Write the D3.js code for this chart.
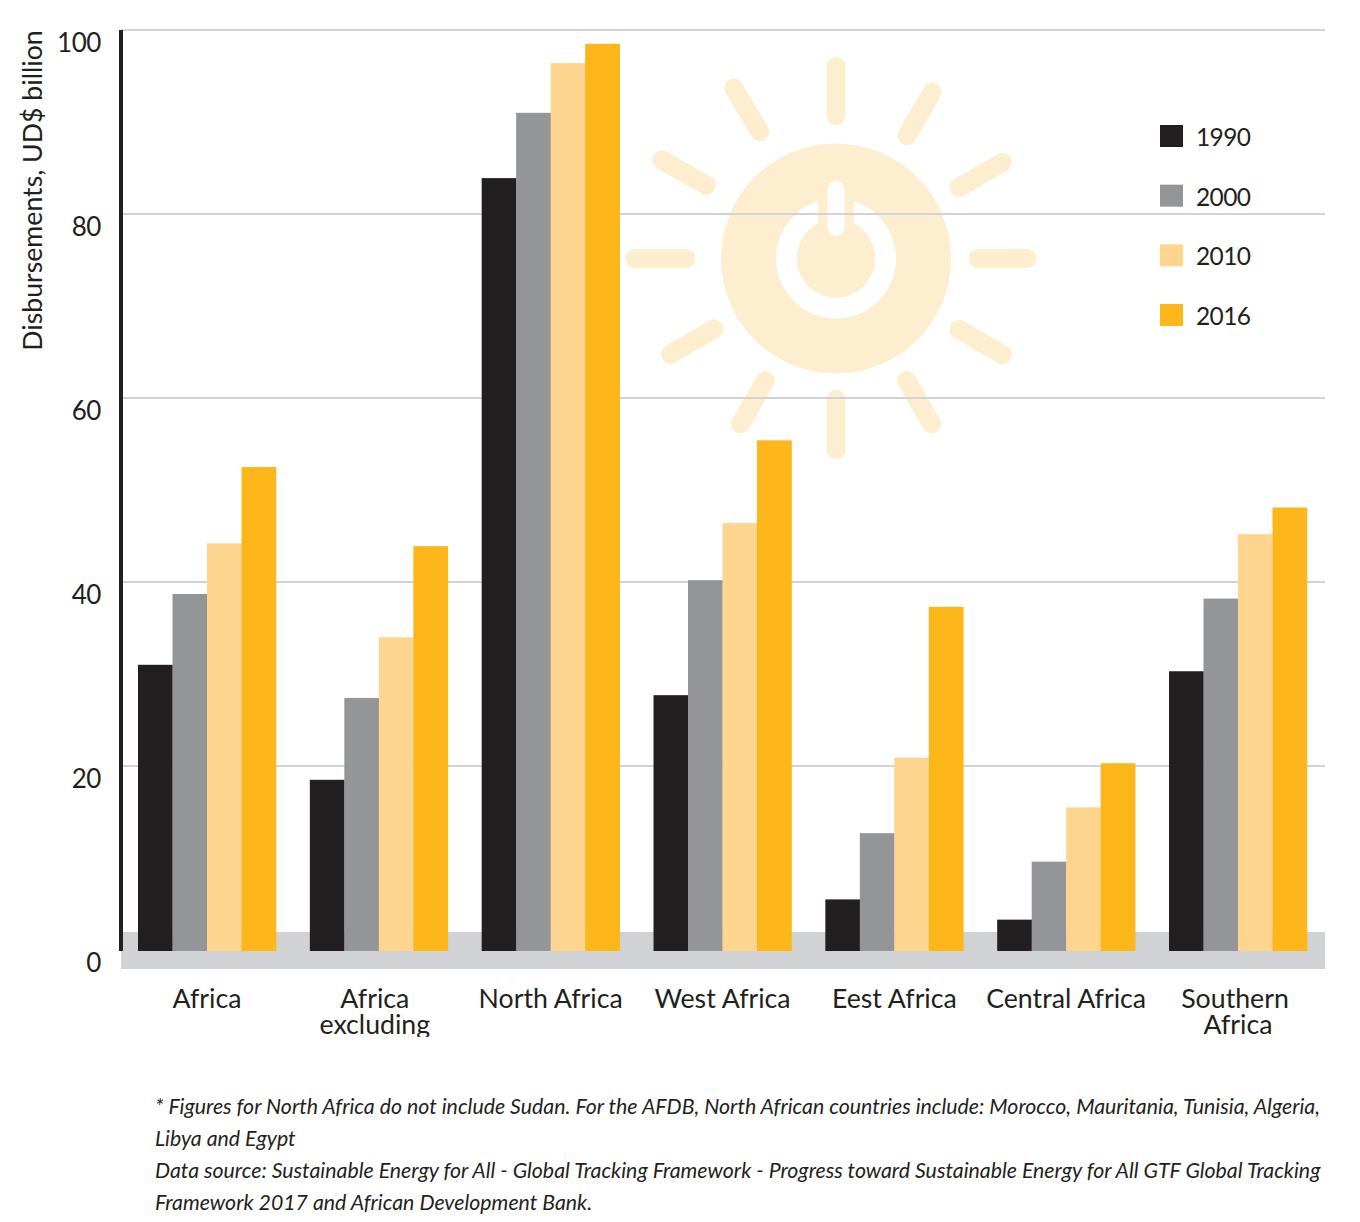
<!DOCTYPE html>
<html>
<head>
<meta charset="utf-8">
<script src="https://cdn.jsdelivr.net/npm/d3@7"></script>
<style>
  html, body { margin: 0; padding: 0; background: #fff; }
  svg { display: block; }
  text { font-family: Lato, sans-serif; fill: #231f20; }
</style>
</head>
<body>
<div id="vis"></div>
<script>
// data
var categories = ["Africa", "Africa excluding", "North Africa", "West Africa", "East Africa", "Central Africa", "Southern Africa"];
var categoryLines = [["Africa"], ["Africa", "excluding"], ["North Africa"], ["West Africa"], ["Eest Africa"], ["Central Africa"], ["Southern", "Africa"]];
var years = ["1990", "2000", "2010", "2016"];
var values1990 = [31, 18.5, 83.9, 27.7, 5.5, 3.3, 30.3];
var values2000 = [38.7, 27.4, 91, 40.2, 12.7, 9.6, 38.2];
var values2010 = [44.2, 34, 96.4, 46.4, 20.9, 15.5, 45.2];
var values2016 = [52.5, 43.9, 98.5, 55.4, 37.3, 20.3, 48.1];
var yTicks = [0, 20, 40, 60, 80, 100];
var colors = ["#231f20", "#939598", "#fdd58f", "#fdb71b"];
var footnotes = [
  "* Figures for North Africa do not include Sudan. For the AFDB, North African countries include: Morocco, Mauritania, Tunisia, Algeria,",
  "Libya and Egypt",
  "Data source: Sustainable Energy for All - Global Tracking Framework - Progress toward Sustainable Energy for All GTF Global Tracking",
  "Framework 2017 and African Development Bank."
];

var series = [values1990, values2000, values2010, values2016];

var width = 1360, height = 1222;
var svg = d3.select("#vis").append("svg")
  .attr("width", width)
  .attr("height", height);

var y = d3.scaleLinear().domain([0, 100]).range([950, 30]);
var x = d3.scaleBand().domain(categories).range([138, 1307]).paddingInner(0.197).paddingOuter(0);
var xBar = d3.scaleBand().domain(years).range([0, x.bandwidth()]);

// grey floor band
svg.append("rect")
  .attr("x", 121).attr("y", 932)
  .attr("width", 1204).attr("height", 37)
  .attr("fill", "#d1d2d6");

// sun watermark
var sunColor = "#fdeed0";
var cx = 836, cy = 258.5;
var sun = svg.append("g").attr("transform", "translate(" + cx + "," + cy + ")");
// angle from north, inner and outer radius of each ray
var rays = [[0, 143, 192], [30, 142, 192], [60, 142, 192], [90, 142, 191], [120, 142, 192], [150, 141, 191],
            [180, 141, 191], [210, 141, 191], [240, 141, 191], [270, 150, 201], [299.5, 149, 200], [329, 148, 199]];
sun.selectAll("line.ray").data(rays).enter().append("line")
  .attr("class", "ray")
  .attr("x1", function(d) { return d[1] * Math.sin(d[0] * Math.PI / 180); })
  .attr("y1", function(d) { return -d[1] * Math.cos(d[0] * Math.PI / 180); })
  .attr("x2", function(d) { return d[2] * Math.sin(d[0] * Math.PI / 180); })
  .attr("y2", function(d) { return -d[2] * Math.cos(d[0] * Math.PI / 180); })
  .attr("stroke", sunColor).attr("stroke-width", 19).attr("stroke-linecap", "round");
sun.append("circle").attr("r", 115).attr("fill", sunColor);
sun.append("circle").attr("r", 60).attr("fill", "#fff");
sun.append("rect").attr("x", -18).attr("y", -60).attr("width", 36).attr("height", 36).attr("fill", sunColor);
sun.append("circle").attr("r", 39.3).attr("fill", sunColor);
sun.append("line")
  .attr("x1", 0).attr("x2", 0).attr("y1", -69).attr("y2", -31)
  .attr("stroke", "#fff").attr("stroke-width", 17).attr("stroke-linecap", "round");

// y axis, labels sit a bit below their gridline
var yAxis = svg.append("g")
  .attr("transform", "translate(121,0)")
  .call(d3.axisLeft(y).tickValues(yTicks).tickSize(0).tickPadding(20));
yAxis.select(".domain").remove();
yAxis.selectAll("text")
  .attr("dy", 21)
  .style("font-size", "26px")
  .style("letter-spacing", "-0.4px")
  .style("font-family", "Lato, sans-serif")
  .attr("fill", "#231f20");

// gridlines
svg.append("g").selectAll("line").data(yTicks.filter(function(d) { return d > 0; })).enter().append("line")
  .attr("x1", 121).attr("x2", 1325)
  .attr("y1", function(d) { return y(d); })
  .attr("y2", function(d) { return y(d); })
  .attr("stroke", "#d1d2d6").attr("stroke-width", 2);

// axis line
svg.append("line")
  .attr("x1", 121).attr("x2", 121)
  .attr("y1", 30).attr("y2", 951)
  .attr("stroke", "#231f20").attr("stroke-width", 4);

svg.append("text")
  .attr("transform", "translate(42,190.5) rotate(-90)")
  .attr("text-anchor", "middle")
  .style("font-size", "26.7px")
  .text("Disbursements, UD$ billion");

// bars
years.forEach(function(year, i) {
  svg.append("g").selectAll("rect").data(series[i]).enter().append("rect")
    .attr("x", function(d, j) { return x(categories[j]) + xBar(year); })
    .attr("y", function(d) { return y(d); })
    .attr("width", xBar.bandwidth() + 0.3)
    .attr("height", function(d) { return y(0) + 1 - y(d); })
    .attr("fill", colors[i]);
});

// category labels, the source cuts the second line off at the bottom
svg.append("clipPath").attr("id", "labelClip").append("rect")
  .attr("x", 0).attr("y", 970).attr("width", width).attr("height", 67);

// a few wrapped lines sit left of the group centre in the source
var lineShift = { "Africa excluding": [-4, -4], "Southern Africa": [-3, 0] };

var labels = svg.append("g").attr("clip-path", "url(#labelClip)")
  .selectAll("text").data(categories).enter().append("text")
  .attr("text-anchor", "middle")
  .attr("y", 1008)
  .style("font-size", "26.7px");
labels.selectAll("tspan")
  .data(function(d, i) {
    return categoryLines[i].map(function(line, k) {
      return { text: line, line: k, cx: x(d) + x.bandwidth() / 2 + (lineShift[d] ? lineShift[d][k] : 0) };
    });
  })
  .enter().append("tspan")
  .attr("x", function(d) { return d.cx; })
  .attr("dy", function(d) { return d.line ? 26 : 0; })
  .text(function(d) { return d.text; });

// legend
var legendY = d3.scalePoint().domain(years).range([136, 315]);
var legend = svg.append("g").selectAll("g").data(years).enter().append("g")
  .attr("transform", function(d) { return "translate(1160," + legendY(d) + ")"; });
legend.append("rect")
  .attr("x", 0).attr("y", -11).attr("width", 23).attr("height", 22)
  .attr("fill", function(d, i) { return colors[i]; });
legend.append("text")
  .attr("x", 36).attr("y", 10)
  .style("font-size", "24.5px")
  .style("letter-spacing", "-0.6px")
  .text(function(d) { return d; });

// footnotes
svg.append("g").selectAll("text").data(footnotes).enter().append("text")
  .attr("x", 155)
  .attr("y", function(d, i) { return 1114 + i * 32; })
  .style("font-size", "21.3px")
  .style("font-style", "italic")
  .text(function(d) { return d; });
</script>
</body>
</html>
